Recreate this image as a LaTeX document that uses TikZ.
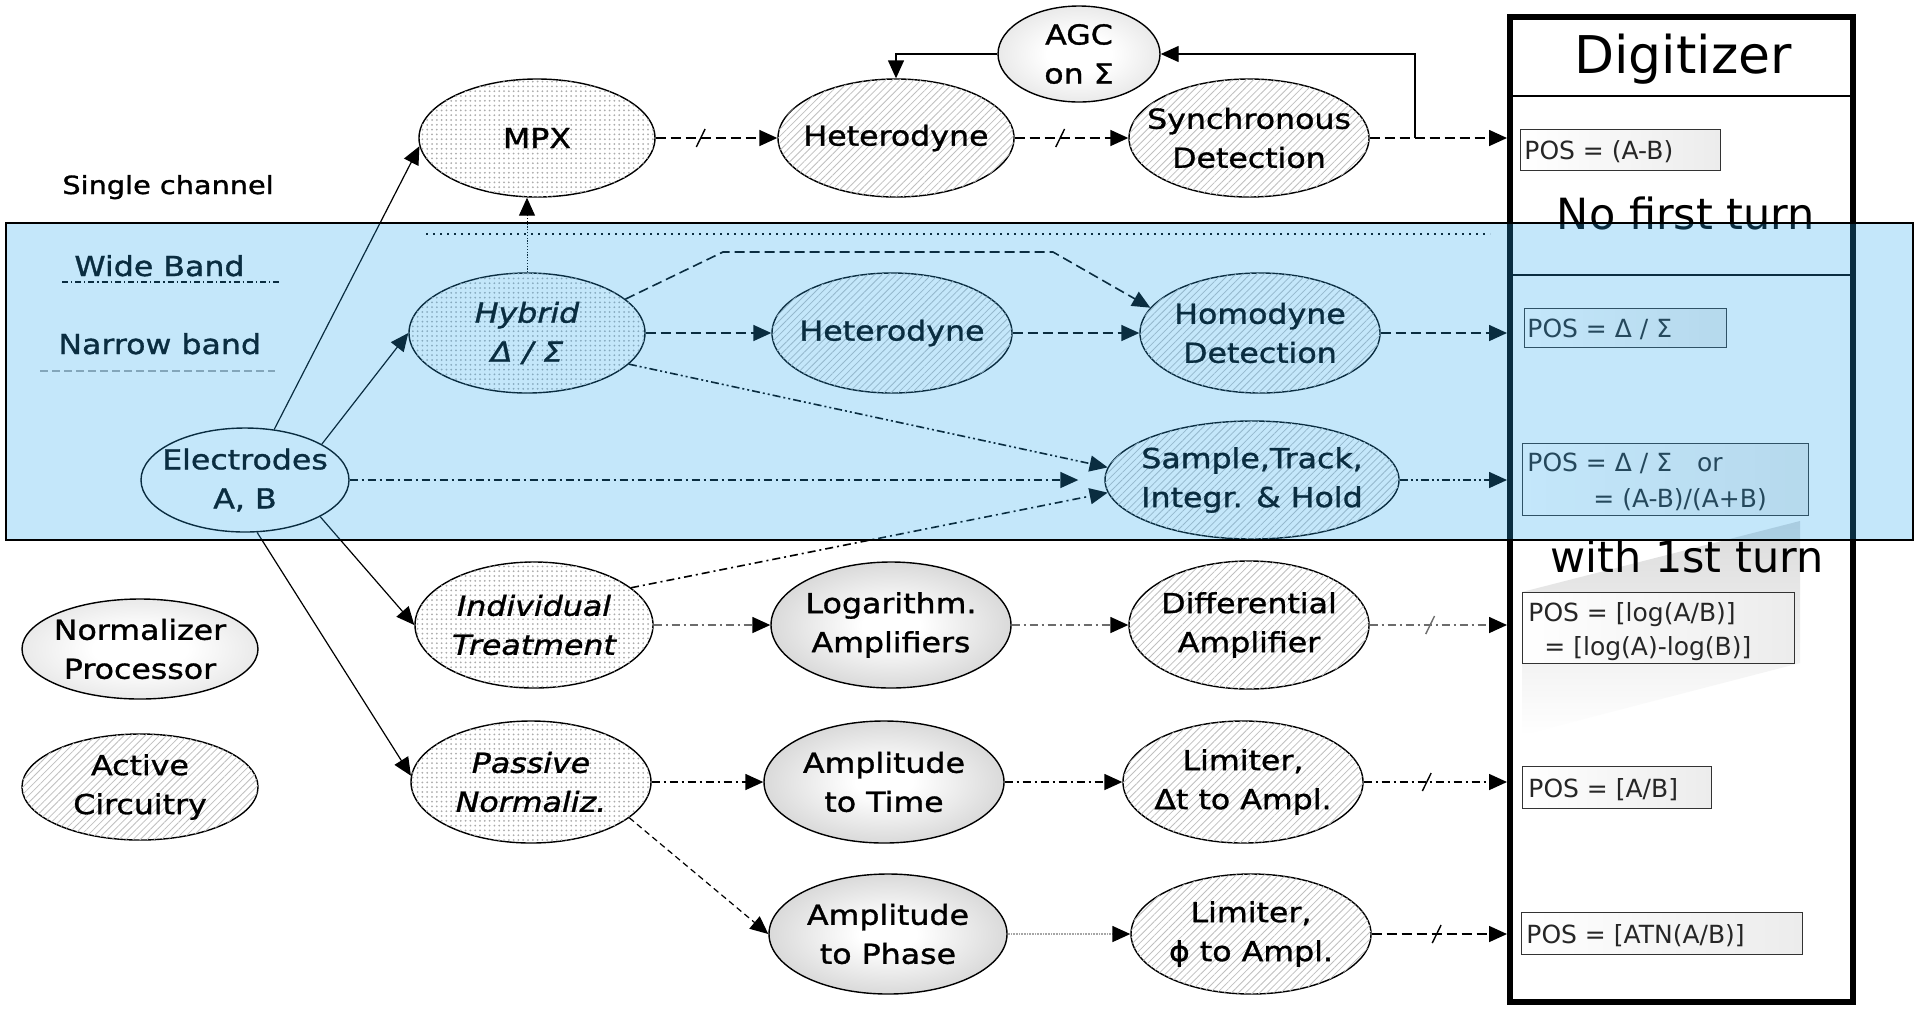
\documentclass[tikz,border=0pt]{standalone}
\usepackage{fontspec}
\setmainfont[FakeStretch=1.15, FakeBold=1.2]{DejaVu Sans}
\newfontfamily\plainfont{DejaVu Sans}
\usetikzlibrary{shapes.geometric, arrows.meta, patterns.meta, decorations.markings, calc}
\definecolor{bandblue}{RGB}{37,167,240}
\pgfdeclareradialshading{darkshade}{\pgfpoint{0bp}{0bp}}{color(0bp)=(white); color(6bp)=(white); color(50bp)=(gray!68)}
\pgfdeclareradialshading{lightshade}{\pgfpoint{0bp}{0bp}}{color(0bp)=(white); color(10bp)=(white); color(50bp)=(gray!45)}
\newcommand\lf{\fontsize{13.75}{19.5}\selectfont}
\newcommand\posf{\plainfont\fontsize{12.5}{15}\selectfont}
\begin{document}
\begin{tikzpicture}[x=0.5pt,y=-0.5pt,
  ell/.style={ellipse, draw=black, line width=0.7pt, inner sep=0pt},
  dotf/.style={fill=white, postaction={pattern={Dots[distance=2.4pt, radius=0.5pt]}, pattern color=gray!65}},
  hatchf/.style={fill=white, postaction={pattern={Lines[angle=45, distance=2.5pt, line width=0.4pt]}, pattern color=gray!50}},
  radf/.style={shade, shading=#1},
  lab/.style={font=\lf, align=center, inner sep=0pt, text=black},
  con/.style={line width=0.8pt, -{Triangle[length=9pt,width=8pt,color=black]}},
  thin/.style={con, line width=0.6pt},
  dsh/.style={con, dash pattern=on 5pt off 2.5pt},
  dd/.style={con, dash pattern=on 4pt off 2pt on 1pt off 2pt},
  ddg/.style={dd, draw=gray!85!black},
  ddd/.style={con, dash pattern=on 4pt off 1.5pt on 1pt off 1.5pt on 1pt off 1.5pt},
  dotl/.style={con, line width=0.5pt, dash pattern=on 0.6pt off 0.8pt},
  fdot/.style={con, draw=gray!70, dash pattern=on 0.4pt off 0.4pt},
  slash/.style={postaction={decorate, decoration={markings, mark=at position #1 with {\draw[solid, line width=0.7pt, -] (-2.2pt,-4.5pt) -- (2.2pt,4.5pt);}}}},
  posbox/.style={draw=black!80, line width=0.6pt, left color=white, right color=gray!15, inner sep=0pt, anchor=north west},
  post/.style={font=\posf, anchor=base west, inner sep=0pt, text=black!85},
  big/.style={font=\plainfont\fontsize{21.5}{26}\selectfont, anchor=base, inner sep=0pt},
  leg/.style={font=\lf, anchor=base west, inner sep=0pt}
]
\fill[white] (0,0) rectangle (1914,1008);
\useasboundingbox (0,0) rectangle (1914,1008);

% ---------- Digitizer ----------
\node[draw, line width=3pt, minimum width=171.5pt, minimum height=492.5pt, inner sep=0pt, fill=white] (dig) at (1681.5,509.5) {};
\coordinate (hd1) at (1600,96);
\coordinate (hd2) at (1600,275);
\draw[line width=1.2pt] (dig.west |- hd1) -- (dig.east |- hd1);
\draw[line width=1.2pt] (dig.west |- hd2) -- (dig.east |- hd2);
\node[font=\plainfont\fontsize{26}{30}\selectfont, anchor=base, inner sep=0pt] (digt) at (1683,73) {Digitizer};
\shade[top color=gray!28, bottom color=white] (1522,592) -- (1800,521) -- (1800,663) -- (1522,735) -- cycle;
\node[big] (nft) at (1686,229) {No first turn};
\node[big] (wft) at (1687,572) {with 1st turn};

\node[posbox, minimum width=100pt, minimum height=20.5pt] (b1) at (1520,129) {};
\node[post] (t1) at (1524,159) {POS = (A-B)};
\node[posbox, minimum width=101pt, minimum height=19.5pt] (b2) at (1524,308) {};
\node[post] (t2) at (1527,337) {POS = Δ / Σ};
\node[posbox, minimum width=143pt, minimum height=36pt] (b3) at (1522,443) {};
\node[post] (t3a) at (1527,471) {POS = Δ / Σ\quad or};
\node[post] (t3b) at (1593,507) {= (A-B)/(A+B)};
\node[posbox, minimum width=136pt, minimum height=35.5pt] (b4) at (1522,592) {};
\node[post] (t4a) at (1528,621) {POS = [log(A/B)]};
\node[post] (t4b) at (1544,655) {= [log(A)-log(B)]};
\node[posbox, minimum width=94.5pt, minimum height=21pt] (b5) at (1522,766) {};
\node[post] (t5) at (1528,797) {POS = [A/B]};
\node[posbox, minimum width=140.5pt, minimum height=21pt] (b6) at (1521,912) {};
\node[post] (t6) at (1526,943) {POS = [ATN(A/B)]};

% ---------- Ellipses ----------
\node[ell, radf=lightshade, minimum width=81pt, minimum height=48pt, label={[lab]center:{AGC\\on Σ}}] (agc) at (1079,54) {};
\node[ell, dotf, minimum width=118pt, minimum height=59pt, label={[lab]center:{MPX}}] (mpx) at (537,138) {};
\node[ell, hatchf, minimum width=118pt, minimum height=59pt, label={[lab]center:{Heterodyne}}] (het1) at (896,138) {};
\node[ell, hatchf, minimum width=120pt, minimum height=59pt, label={[lab]center:{Synchronous\\Detection}}] (sync) at (1249,138) {};
\node[ell, dotf, minimum width=118pt, minimum height=60pt, label={[lab, font=\lf\itshape]center:{Hybrid\\Δ / Σ}}] (hyb) at (527,333) {};
\node[ell, hatchf, minimum width=120pt, minimum height=60pt, label={[lab]center:{Heterodyne}}] (het2) at (892,333) {};
\node[ell, hatchf, minimum width=120pt, minimum height=60pt, label={[lab]center:{Homodyne\\Detection}}] (hom) at (1260,333) {};
\node[ell, fill=white, minimum width=104pt, minimum height=52pt, label={[lab]center:{Electrodes\\A, B}}] (ele) at (245,480) {};
\node[ell, hatchf, minimum width=147pt, minimum height=59pt, label={[lab]center:{Sample,Track,\\Integr. \& Hold}}] (sam) at (1252,480) {};
\node[ell, dotf, minimum width=119pt, minimum height=63pt, label={[lab, font=\lf\itshape]center:{Individual\\Treatment}}] (ind) at (534,625) {};
\node[ell, radf=darkshade, minimum width=120pt, minimum height=63pt, label={[lab]center:{Logarithm.\\Amplifiers}}] (log) at (891,625) {};
\node[ell, hatchf, minimum width=120pt, minimum height=64pt, label={[lab]center:{Differential\\Amplifier}}] (dif) at (1249,625) {};
\node[ell, dotf, minimum width=120pt, minimum height=61pt, label={[lab, font=\lf\itshape]center:{Passive\\Normaliz.}}] (pas) at (531,782) {};
\node[ell, radf=darkshade, minimum width=120pt, minimum height=61pt, label={[lab]center:{Amplitude\\to Time}}] (amt) at (884,782) {};
\node[ell, hatchf, minimum width=120pt, minimum height=61pt, label={[lab]center:{Limiter,\\Δt to Ampl.}}] (limt) at (1243,782) {};
\node[ell, radf=darkshade, minimum width=119pt, minimum height=60pt, label={[lab]center:{Amplitude\\to Phase}}] (app) at (888,934) {};
\node[ell, hatchf, minimum width=120pt, minimum height=60pt, label={[lab]center:{Limiter,\\ϕ to Ampl.}}] (limp) at (1251,934) {};
\node[ell, radf=lightshade, minimum width=118pt, minimum height=50pt, label={[lab]center:{Normalizer\\Processor}}] (nor) at (140,649) {};
\node[ell, hatchf, minimum width=118pt, minimum height=53pt, label={[lab]center:{Active\\Circuitry}}] (act) at (140,787) {};

% ---------- Connectors ----------
\draw[dsh, slash=0.37] (mpx.east) -- (het1.west);
\draw[dsh, slash=0.40] (het1.east) -- (sync.west);
\draw[dsh] (sync.east) -- (sync.east -| dig.west);
\coordinate (fb) at (1415,138);
\draw[con, line width=0.7pt] (fb) |- (agc.east);
\draw[con, line width=0.7pt] (agc.west) -| (het1.north);
\draw[dotl] (hyb.north) -- (hyb.north |- mpx.south);
\draw[dsh] (hyb.east) -- (het2.west);
\draw[dsh] (het2.east) -- (hom.west);
\draw[dsh] (hom.east) -- (hom.east -| dig.west);
\coordinate (k1) at (723,252);
\coordinate (k2) at (1053,252);
\draw[dsh] (hyb.19) -- (k1) -- (k2) -- (hom.167);
\draw[ddd] (hyb.-17) -- (sam.175);
\draw[dd] (ele.east) -- ([xshift=-13pt]sam.west);
\draw[dd] (ind.21) -- (sam.185);
\draw[ddd] (sam.east) -- (sam.east -| dig.west);
\draw[thin] (ele.60) -- (mpx.184);
\draw[thin] (ele.25) -- (hyb.west);
\draw[thin] (ele.-26) -- (ind.west);
\draw[thin] (ele.-77) -- (pas.177);
\draw[ddg] (ind.east) -- (log.west);
\draw[ddg] (log.east) -- (dif.west);
\draw[ddg, slash=0.44] (dif.east) -- (dif.east -| dig.west);
\draw[dd] (pas.east) -- (amt.west);
\draw[dd] (amt.east) -- (limt.west);
\draw[dd, slash=0.44] (limt.east) -- (limt.east -| dig.west);
\draw[con, line width=0.6pt, dash pattern=on 3pt off 2pt] (pas.-20) -- (app.west);
\draw[fdot] (app.east) -- (limp.west);
\draw[dsh, slash=0.48] (limp.east) -- (limp.east -| dig.west);

% ---------- Legend ----------
\node[leg, font=\fontsize{12.5}{15}\selectfont] (sc) at (62,194) {Single channel};
\node[leg] (wb) at (74,276) {Wide Band};
\node[leg] (nb) at (58,354) {Narrow band};
\coordinate (wb1) at (62,282);
\coordinate (wb2) at (281,282);
\draw[line width=0.6pt, dash pattern=on 3pt off 1.5pt on 0.6pt off 1.5pt] (wb1) -- (wb2);
\coordinate (nb1) at (40,371);
\coordinate (nb2) at (275,371);
\draw[line width=1pt, gray!70, dash pattern=on 4pt off 2pt] (nb1) -- (nb2);
\coordinate (sep1) at (426,234);
\coordinate (sep2) at (1490,234);
\draw[line width=1.1pt, dash pattern=on 1.1pt off 2.4pt] (sep1) -- (sep2);

% ---------- Blue band overlay ----------
\draw[black, line width=0.8pt, fill=bandblue, fill opacity=0.27] (6,223) rectangle (1913,540);
\end{tikzpicture}
\end{document}
